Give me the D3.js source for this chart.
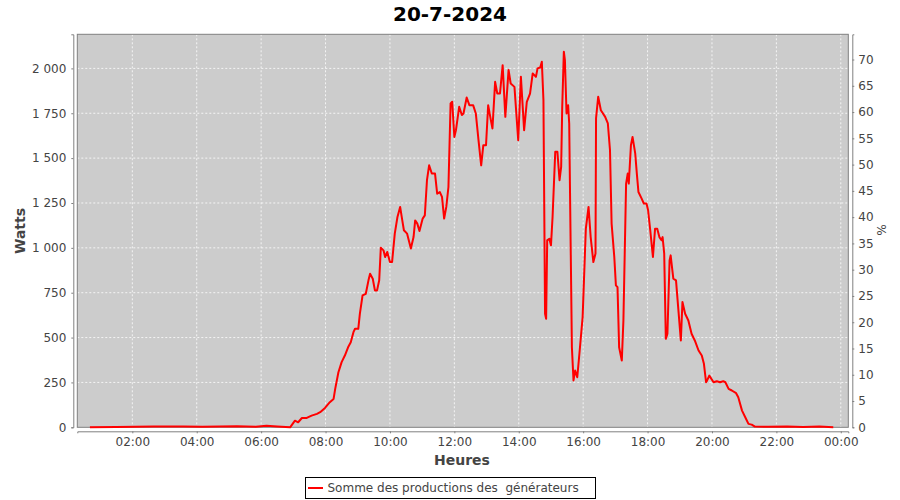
<!DOCTYPE html>
<html><head><meta charset="utf-8">
<script src="https://cdn.jsdelivr.net/npm/d3@7"></script>
<style>body{margin:0;background:#fff}svg{display:block;font-family:"DejaVu Sans",sans-serif}</style>
</head><body><svg id="c" width="900" height="500"></svg>
<script>
const title = "20-7-2024";
const times = ["00:41","01:30","02:40","03:35","04:10","05:15","05:50","06:10","06:30","06:54",
"07:03","07:09","07:16","07:25","07:34","07:44","07:50","07:59","08:08","08:15","08:18","08:24","08:30","08:36","08:42","08:47","08:52","08:55",
"09:01","09:04","09:09","09:15","09:20","09:23","09:28","09:32","09:36","09:40","09:43","09:48","09:51","09:55",
"10:00","10:04","10:09","10:14","10:19","10:23","10:26","10:32","10:39","10:44","10:47","10:51","10:55",
"11:01","11:05","11:09","11:13","11:18","11:24","11:28","11:33","11:37","11:41","11:45","11:49","11:53","11:56",
"12:00","12:03","12:09","12:14","12:17","12:23","12:28","12:35","12:40","12:45","12:50","12:54","12:59",
"13:03","13:08","13:11","13:16","13:20","13:25","13:30","13:35","13:41","13:45","13:52","13:59",
"14:04","14:10","14:15","14:21","14:26","14:32","14:35","14:40","14:43","14:46","14:49","14:51","14:53","14:57",
"15:00","15:03","15:08","15:12","15:16","15:19","15:21","15:24","15:26","15:29","15:32","15:34","15:39","15:42","15:45","15:49","15:53","15:59",
"16:05","16:10","16:14","16:19","16:23","16:24","16:28","16:33","16:41","16:46","16:50","16:53","16:58",
"17:01","17:04","17:07","17:12","17:15","17:20","17:23","17:25","17:29","17:32","17:37","17:40","17:43","17:49","17:53","17:58",
"18:01","18:05","18:10","18:14","18:18","18:22","18:26","18:28","18:31","18:34","18:37","18:41","18:43","18:48","18:53","18:57",
"19:02","19:05","19:10","19:16","19:22","19:28","19:35","19:41","19:45","19:49","19:51","19:55",
"20:03","20:09","20:15","20:21","20:25","20:31","20:37","20:45","20:49","20:56",
"21:02","21:08","21:14","21:20","21:45","22:20","22:50","23:20","23:46"];
const watts = [0,2,5,4,3,6,3,8,4,0,
37,28,52,52,65,75,84,108,140,158,214,307,363,400,446,474,530,549,
549,633,735,744,819,856,828,763,763,819,1001,986,949,977,
921,921,1079,1172,1228,1153,1098,1079,996,1060,1153,1135,1094,
1163,1181,1377,1460,1414,1414,1302,1311,1284,1163,1228,1339,1805,1814,
1618,1656,1786,1740,1749,1838,1795,1795,1749,1600,1460,1572,1572,
1795,1712,1665,1925,1860,1860,2018,1730,1991,1916,1897,1600,
1953,1656,1814,1860,1972,1953,2000,2005,2037,1823,633,605,1042,1051,
1014,1172,1535,1535,1377,1451,1786,2093,2046,1749,1795,1693,446,261,316,279,410,614,
1107,1228,1060,921,968,1721,1842,1767,1730,1693,1544,1135,949,
791,781,446,372,595,1358,1414,1358,1572,1618,1526,1414,1311,1274,1247,1247,
1209,1098,949,1107,1107,1060,1042,1060,968,493,521,930,958,828,819,670,
484,698,633,595,521,484,428,400,354,251,261,288,
251,257,251,257,251,214,205,190,167,93,
56,19,15,4,3,5,2,4,0];
const xTickLabels = ["02:00","04:00","06:00","08:00","10:00","12:00","14:00","16:00","18:00","20:00","22:00","00:00"];
const wattTicks = [0,250,500,750,1000,1250,1500,1750,2000];
const pctTicks = [0,5,10,15,20,25,30,35,40,45,50,55,60,65,70];
const xLabel = "Heures", yLabel = "Watts", y2Label = "%";
const legendLabel = "Somme des productions des  générateurs";

const toMin = s => { const [h,m] = s.split(":").map(Number); return h*60+m; };
const data = times.map((t,i)=>({t:toMin(t), v:watts[i]}));

const svg = d3.select("#c");
const L=77.3, R=848.3, T=34.3, B=427.3;
const x = d3.scaleLinear().domain([17.5,1454]).range([L,R]);
const y = d3.scaleLinear().domain([0,2190]).range([B,T]);
const y2 = d3.scaleLinear().domain([0,74.8]).range([B,T]);
const fmtW = d3.format(",");
const wl = v => fmtW(v).replace(/,/g," ");

svg.append("rect").attr("x",L).attr("y",T).attr("width",R-L).attr("height",B-T).attr("fill","#cccccc");
// grid
const xt = xTickLabels.map((s,i)=>(i+1)*120);
svg.append("g").selectAll("line").data(xt).join("line")
 .attr("x1",d=>x(d)).attr("x2",d=>x(d)).attr("y1",T).attr("y2",B)
 .attr("stroke","#fff").attr("stroke-width",0.8).attr("stroke-dasharray","2,2");
svg.append("g").selectAll("line").data(wattTicks.filter(d=>d>0)).join("line")
 .attr("x1",L).attr("x2",R).attr("y1",d=>y(d)).attr("y2",d=>y(d))
 .attr("stroke","#fff").attr("stroke-width",0.8).attr("stroke-dasharray","2,2");
svg.append("rect").attr("x",L).attr("y",T).attr("width",R-L).attr("height",B-T).attr("fill","none").attr("stroke","#808080").attr("stroke-width",1);

// line
svg.append("path").datum(data)
 .attr("d",d3.line().x(d=>x(d.t)).y(d=>y(d.v)))
 .attr("fill","none").attr("stroke","#ff0000").attr("stroke-width",2).attr("stroke-linejoin","round");

function style(g){
  g.select(".domain").attr("stroke","#808080");
  g.selectAll(".tick line").attr("stroke","#808080");
  g.selectAll(".tick text").attr("fill","#444").attr("font-size","12px").attr("font-family","DejaVu Sans");
}
const xa = svg.append("g").attr("transform",`translate(0,${B+4})`)
 .call(d3.axisBottom(x).tickValues(xt).tickFormat((d,i)=>xTickLabels[i]).tickSizeOuter(0).tickSize(2).tickPadding(4));
style(xa);
const ya = svg.append("g").attr("transform",`translate(${L-4},0)`)
 .call(d3.axisLeft(y).tickValues(wattTicks).tickFormat(wl).tickSizeOuter(0).tickSize(2).tickPadding(5));
style(ya);
const y2a = svg.append("g").attr("transform",`translate(${R+4},0)`)
 .call(d3.axisRight(y2).tickValues(pctTicks).tickSizeOuter(0).tickSize(2).tickPadding(4));
style(y2a);

svg.append("text").attr("x",450).attr("y",21).attr("text-anchor","middle")
 .attr("font-size","20px").attr("font-weight","bold").attr("fill","#000").text(title);
svg.append("text").attr("x",462).attr("y",465).attr("text-anchor","middle")
 .attr("font-size","14px").attr("font-weight","bold").attr("fill","#444").text(xLabel);
svg.append("text").attr("transform","translate(25,231) rotate(-90)").attr("text-anchor","middle")
 .attr("font-size","14px").attr("font-weight","bold").attr("fill","#444").text(yLabel);
svg.append("text").attr("transform","translate(877,230) rotate(90)").attr("text-anchor","middle")
 .attr("font-size","12px").attr("fill","#444").text(y2Label);

// legend
const lg = svg.append("g");
lg.append("rect").attr("x",305.5).attr("y",477.5).attr("width",290).attr("height",21).attr("fill","#fff").attr("stroke","#000");
lg.append("line").attr("x1",308).attr("x2",323).attr("y1",488).attr("y2",488).attr("stroke","#ff0000").attr("stroke-width",2);
lg.append("text").attr("x",327.5).attr("y",492).attr("font-size","12px").attr("fill","#444")
 .style("white-space","pre").text(legendLabel);
</script></body></html>
